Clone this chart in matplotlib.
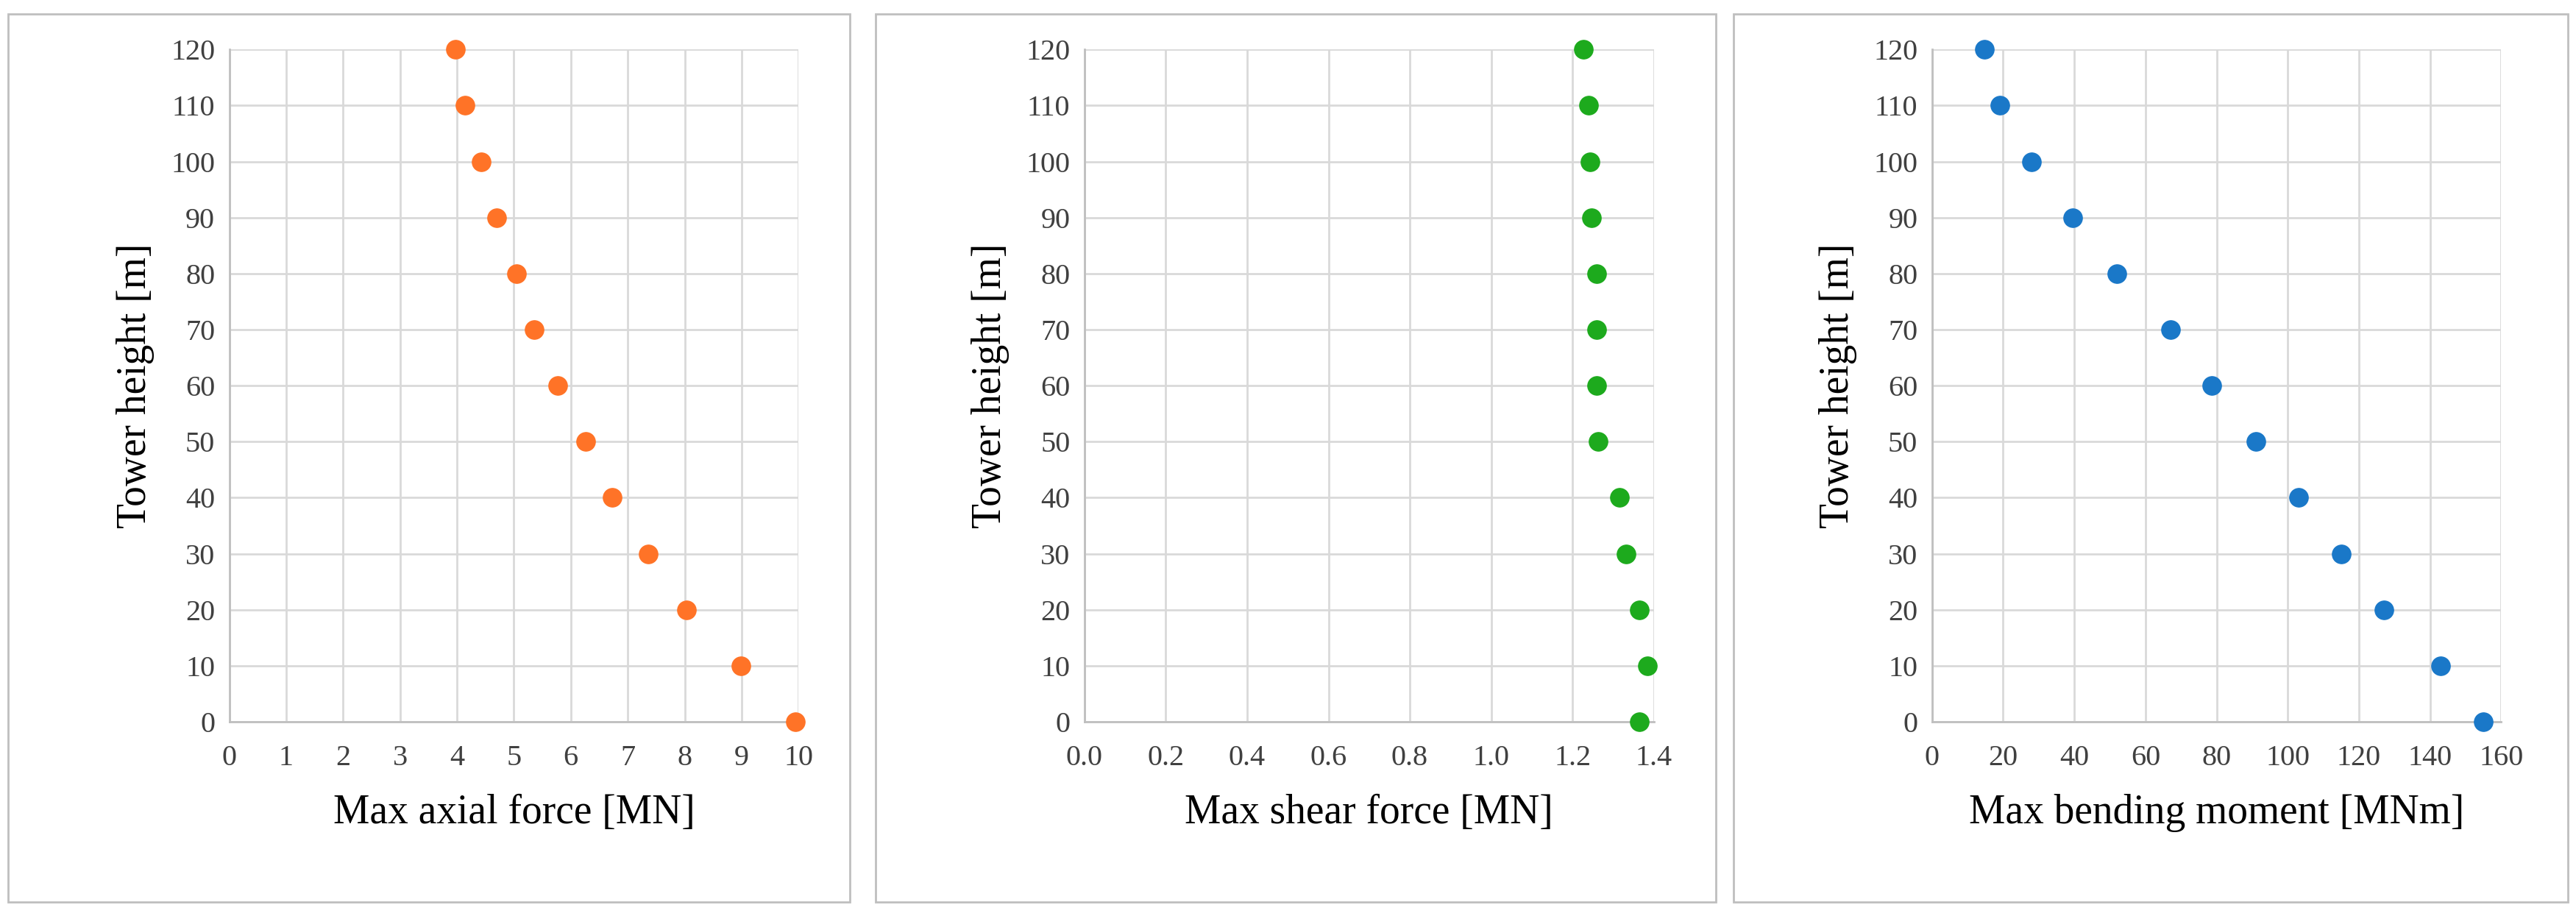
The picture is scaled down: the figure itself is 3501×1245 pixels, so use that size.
import matplotlib
matplotlib.use("Agg")
import matplotlib.pyplot as plt
from matplotlib.patches import Rectangle

heights = [120, 110, 100, 90, 80, 70, 60, 50, 40, 30, 20, 10, 0]
axial = [3.97, 4.14, 4.43, 4.70, 5.04, 5.36, 5.77, 6.26, 6.72, 7.36, 8.03, 8.99, 9.95]
shear = [1.227, 1.239, 1.243, 1.247, 1.259, 1.259, 1.259, 1.263, 1.315, 1.331, 1.364, 1.384, 1.364]
moment = [14.8, 19, 28, 39.5, 52, 67, 78.6, 91, 103, 115, 127, 143, 155]

plt.rcParams['font.family'] = ['Liberation Serif', 'DejaVu Serif']
fig = plt.figure(figsize=(35.01, 12.45), dpi=100)

panels = [
    (axial, '#FF7327', 'Max axial force [MN]', (0, 10), list(range(0, 11)), [str(i) for i in range(11)], 0.089, 0.003, 0.330),
    (shear, '#1DAA1D', 'Max shear force [MN]', (0, 1.4), [0, 0.2, 0.4, 0.6, 0.8, 1.0, 1.2, 1.4],
     ['0.0', '0.2', '0.4', '0.6', '0.8', '1.0', '1.2', '1.4'], 0.421, 0.340, 0.666),
    (moment, '#1A78C8', 'Max bending moment [MNm]', (0, 160), list(range(0, 161, 20)),
     [str(i) for i in range(0, 161, 20)], 0.750, 0.673, 0.997),
]
for vals, col, xl, xlim, xt, xtl, left, bl, br in panels:
    fig.patches.append(Rectangle((bl, 0.015), br - bl, 0.97, transform=fig.transFigure,
                                 fill=False, edgecolor='#BFBFBF', linewidth=2))
    ax = fig.add_axes([left, 0.212, 0.221, 0.734])
    ax.scatter(vals, heights, s=330, color=col, zorder=3, clip_on=False)
    ax.set_xlim(*xlim)
    ax.set_ylim(0, 120)
    ax.set_xticks(xt)
    ax.set_xticklabels(xtl)
    ax.set_yticks(range(0, 121, 10))
    ax.grid(True, color='#D9D9D9', linewidth=2)
    for s in ['top', 'right']:
        ax.spines[s].set_visible(False)
    for s in ['left', 'bottom']:
        ax.spines[s].set_color('#BFBFBF')
        ax.spines[s].set_linewidth(2)
    ax.tick_params(length=0, labelsize=29, pad=14, colors='#404040')
    ax.tick_params(axis='x', pad=22)
    ax.set_xlabel(xl, fontsize=40, labelpad=22)
    ax.set_ylabel('Tower height [m]', fontsize=40, labelpad=16)

fig.savefig('out.png', dpi=100)
